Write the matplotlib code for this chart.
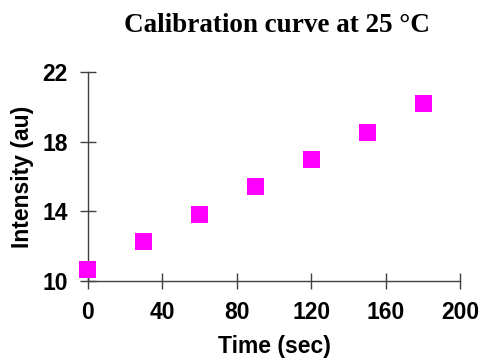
import matplotlib
matplotlib.use("Agg")
import matplotlib.pyplot as plt

# Calibration data
time_sec = [0, 30, 60, 90, 120, 150, 180]
intensity_au = [10.66, 12.27, 13.82, 15.45, 17.0, 18.56, 20.19]
x_ticks = [0, 40, 80, 120, 160, 200]
y_ticks = [10, 14, 18, 22]

fig = plt.figure(figsize=(4.86, 3.58), dpi=100)
ax = fig.add_axes([0.181, 0.216, 0.766, 0.582])

ax.scatter(time_sec, intensity_au, marker="s", s=150, color="#FF00FF",
           edgecolors="none", zorder=3, clip_on=False)

ax.set_xlim(0, 200)
ax.set_ylim(10, 22)
ax.set_xticks(x_ticks)
ax.set_yticks(y_ticks)

for side in ("top", "right"):
    ax.spines[side].set_visible(False)
for side in ("left", "bottom"):
    ax.spines[side].set_color("#404040")
    ax.spines[side].set_linewidth(1.0)

ax.tick_params(axis="both", direction="inout", length=11, width=1.0,
               color="#404040", labelsize=16.5)
ax.tick_params(axis="x", pad=9)
ax.tick_params(axis="y", pad=9)
for lbl in ax.get_xticklabels() + ax.get_yticklabels():
    lbl.set_fontfamily("Liberation Sans")
    lbl.set_fontweight("bold")

ax.set_xlabel("Time (sec)", fontsize=16.5, fontweight="bold",
              fontfamily="Liberation Sans", labelpad=8)
ax.set_ylabel("Intensity (au)", fontsize=16.5, fontweight="bold",
              fontfamily="Liberation Sans", labelpad=6)

fig.text(0.57, 0.928, "Calibration curve at 25 °C", ha="center", va="center",
         fontsize=19.5, fontweight="bold", fontfamily="Liberation Serif")

fig.savefig("out.png", dpi=100)
